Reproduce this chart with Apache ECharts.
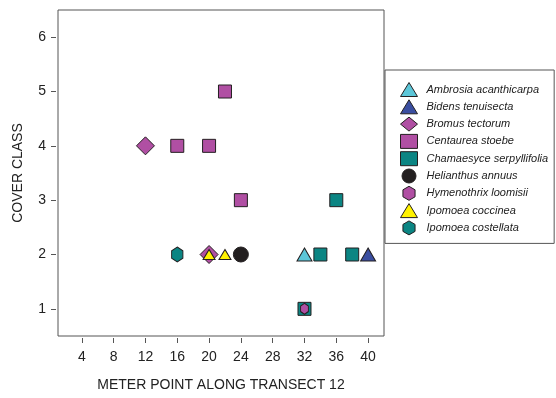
<!DOCTYPE html>
<html><head><meta charset="utf-8">
<script src="https://cdn.jsdelivr.net/npm/echarts@6/dist/echarts.min.js"></script>
<style>html,body{margin:0;padding:0;background:#fff}#c{width:556px;height:398px}</style>
</head><body><div id="c"></div>
<script>
const xTicks = [4, 8, 12, 16, 20, 24, 28, 32, 36, 40];
const yTicks = [1, 2, 3, 4, 5, 6];
const speciesNames = ['Ambrosia acanthicarpa','Bidens tenuisecta','Bromus tectorum','Centaurea stoebe','Chamaesyce serpyllifolia','Helianthus annuus','Hymenothrix loomisii','Ipomoea coccinea','Ipomoea costellata'];
const ambrosia = [[32, 2]];
const bidens = [[40, 2]];
const bromus = [[12, 4], [20, 2]];
const centaurea = [[16, 4], [20, 4], [22, 5], [24, 3]];
const chamaesyce = [[32, 1], [34, 2], [36, 3], [38, 2]];
const helianthus = [[24, 2]];
const hymenothrix = [[32, 1]];
const ipomoeaCoccinea = [[20, 2], [22, 2]];
const ipomoeaCostellata = [[16, 2]];

const HEX = 'path://M0,-1 L0.866,-0.5 L0.866,0.5 L0,1 L-0.866,0.5 L-0.866,-0.5 Z';
const styles = [
  {data: ambrosia, symbol: 'triangle', size: [15, 13], color: '#5cc6d8'},
  {data: bidens, symbol: 'triangle', size: [15, 13], color: '#3a4ea0'},
  {data: bromus, symbol: 'diamond', size: 18, color: '#b04fa3'},
  {data: centaurea, symbol: 'rect', size: 13, color: '#b04fa3'},
  {data: chamaesyce, symbol: 'rect', size: 13, color: '#0b8583'},
  {data: helianthus, symbol: 'circle', size: 15, color: '#231f20'},
  {data: hymenothrix, symbol: HEX, size: [9, 11], color: '#b04fa3'},
  {data: ipomoeaCoccinea, symbol: 'triangle', size: [12, 10], color: '#fff200'},
  {data: ipomoeaCostellata, symbol: HEX, size: [13, 15], color: '#0b8583'}
];
const chart = echarts.init(document.getElementById('c'), null, {renderer: 'canvas'});
const font = 'Liberation Sans, Arial, sans-serif';
chart.setOption({
  animation: false,
  grid: {left: 58, right: 172, top: 10, bottom: 62, show: true, borderColor: '#555', borderWidth: 1},
  xAxis: {
    type: 'value', min: 1, max: 42, offset: 2,
    axisLine: {show: true, lineStyle: {opacity: 0}},
    axisTick: {show: true, length: 5, lineStyle: {color: '#555'}, customValues: xTicks},
    axisLabel: {fontSize: 14, color: '#222', fontFamily: font, margin: 12, customValues: xTicks},
    splitLine: {show: false},
    name: 'METER POINT ALONG TRANSECT 12', nameLocation: 'middle', nameGap: 40,
    nameTextStyle: {fontSize: 14, color: '#222', fontFamily: font}
  },
  yAxis: {
    type: 'value', min: 0.5, max: 6.5, offset: 2,
    axisLine: {show: true, lineStyle: {opacity: 0}},
    axisTick: {show: true, length: 5, lineStyle: {color: '#555'}, customValues: yTicks},
    axisLabel: {fontSize: 14, color: '#222', fontFamily: font, margin: 10, customValues: yTicks},
    splitLine: {show: false},
    name: 'COVER CLASS', nameLocation: 'middle', nameGap: 31,
    nameTextStyle: {fontSize: 14, color: '#222', fontFamily: font}
  },
  legend: {
    orient: 'vertical', left: 385, top: 70,
    data: speciesNames,
    itemWidth: 17, itemHeight: 14, itemGap: 2.3,
    padding: [12, 6, 8, 15],
    borderColor: '#555', borderWidth: 1,
    itemStyle: {borderWidth: 1},
    textStyle: {fontSize: 11, lineHeight: 13, fontStyle: 'italic', color: '#222', fontFamily: font, padding: [0, 0, 0, 4]}
  },
  series: styles.map((s, i) => ({
    name: speciesNames[i], type: 'scatter', data: s.data,
    symbol: s.symbol, symbolSize: s.size, symbolKeepAspect: true,
    itemStyle: {color: s.color, borderColor: '#231f20', borderWidth: 1, opacity: 1},
    emphasis: {disabled: true}
  }))
});
</script></body></html>
